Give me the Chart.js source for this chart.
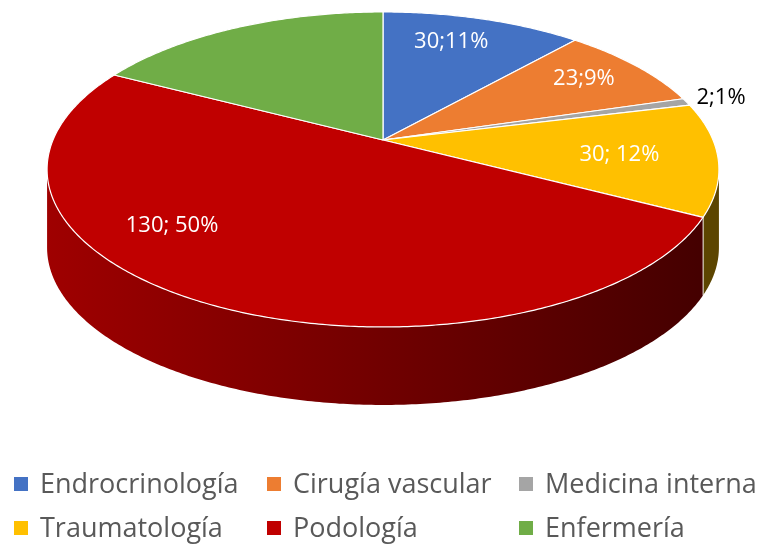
<!DOCTYPE html>
<html>
<head>
<meta charset="utf-8">
<script src="https://cdn.jsdelivr.net/npm/chart.js@4.4.1/dist/chart.umd.min.js"></script>
<style>
    html, body { margin: 0; padding: 0; background: #fff; }
    #wrap { position: relative; width: 765px; height: 547px; overflow: hidden; }
    #pie { position: absolute; left: 0; top: 0; }
    #legend {
        position: absolute; left: 14px; top: 467px;
        display: grid; grid-template-columns: 253px 252px auto;
        row-gap: 10px;
        font-family: "Open Sans", sans-serif; font-size: 27px; color: #595959;
    }
    .item { display: flex; align-items: center; height: 34px; line-height: 34px; white-space: nowrap; }
    .item span:last-child { position: relative; top: -1px; }
    .box { width: 14px; height: 14px; margin-right: 12px; flex: none; }
</style>
</head>
<body>
<div id="wrap">
    <canvas id="pie" width="765" height="547"></canvas>
    <div id="legend"></div>
</div>
<script>
// Chart data
const categories = ['Endrocrinología', 'Cirugía vascular', 'Medicina interna', 'Traumatología', 'Podología', 'Enfermería'];
const values = [30, 23, 2, 30, 130, 45];
const sliceLabels = ['30;11%', '23;9%', '2;1%', '30; 12%', '130; 50%', null];
const colors = ['#4472C4', '#ED7D31', '#A5A5A5', '#FFC000', '#C00000', '#70AD47'];

// Label placement (radius fraction, angle shift in degrees)
const labelRadius = [0.77, 0.79, 1.12, 0.71, 0.77, 0.7];
const labelShift = [-3, -1, 0, 1, 21, 0];

// 3D pie geometry: perspective projection of a flat disc
// X = a*u / (1 + p*v), Y = b*v / (1 + p*v)
const pie3d = { cx: 383, cy: 140, a: 330, b: 152, p: -0.187, depth: 78 };

function project(u, v) {
    const w = 1 + pie3d.p * v;
    return [pie3d.cx + pie3d.a * u / w, pie3d.cy + pie3d.b * v / w];
}

function arcPoints(a1, a2, r) {
    const pts = [];
    const n = Math.max(2, Math.ceil((a2 - a1) / 0.01));
    for (let k = 0; k <= n; k++) {
        const t = a1 + (a2 - a1) * k / n;
        pts.push(project(r * Math.cos(t), r * Math.sin(t)));
    }
    return pts;
}

function shade(hex, f) {
    const n = parseInt(hex.slice(1), 16);
    const r = Math.round(((n >> 16) & 255) * f);
    const g = Math.round(((n >> 8) & 255) * f);
    const b = Math.round((n & 255) * f);
    return `rgb(${r},${g},${b})`;
}

const pie3dPlugin = {
    id: 'pie3d',
    beforeDatasetsDraw(chart) {
        const ctx = chart.ctx;
        const arcs = chart.getDatasetMeta(0).data;
        const g = pie3d;
        // silhouette angle of the side wall
        const tSide = Math.asin(-g.p);
        const left = project(Math.cos(Math.PI - tSide), Math.sin(Math.PI - tSide))[0];
        const right = project(Math.cos(tSide), Math.sin(tSide))[0];

        // side walls (front part only)
        arcs.forEach((arc, i) => {
            const a1 = Math.max(arc.startAngle, tSide);
            const a2 = Math.min(arc.endAngle, Math.PI - tSide);
            if (a2 <= a1) return;
            const pts = arcPoints(a1, a2, 1);
            const grad = ctx.createLinearGradient(left, 0, right - 20, 0);
            grad.addColorStop(0, shade(colors[i], 0.83));
            grad.addColorStop(1, shade(colors[i], 0.36));
            ctx.save();
            ctx.beginPath();
            pts.forEach(([x, y], k) => k ? ctx.lineTo(x, y) : ctx.moveTo(x, y));
            for (let k = pts.length - 1; k >= 0; k--) ctx.lineTo(pts[k][0], pts[k][1] + g.depth);
            ctx.closePath();
            ctx.fillStyle = grad;
            ctx.fill();
            // light vertical edges between slices
            ctx.strokeStyle = 'rgba(255,255,255,0.7)';
            ctx.lineWidth = 1;
            [[a1, pts[0]], [a2, pts[pts.length - 1]]].forEach(([a, [x, y]]) => {
                if (a <= tSide + 0.001 || a >= Math.PI - tSide - 0.001) return;
                ctx.beginPath();
                ctx.moveTo(x, y);
                ctx.lineTo(x, y + g.depth);
                ctx.stroke();
            });
            ctx.restore();
        });

        // top face
        arcs.forEach((arc, i) => {
            const pts = arcPoints(arc.startAngle, arc.endAngle, 1);
            const c = project(0, 0);
            ctx.save();
            ctx.beginPath();
            ctx.moveTo(c[0], c[1]);
            pts.forEach(([x, y]) => ctx.lineTo(x, y));
            ctx.closePath();
            ctx.fillStyle = arc.options.backgroundColor;
            ctx.fill();
            ctx.strokeStyle = arc.options.borderColor;
            ctx.lineWidth = arc.options.borderWidth;
            ctx.lineJoin = 'round';
            ctx.stroke();
            ctx.restore();
        });

        // data labels
        ctx.save();
        ctx.font = '22px "Open Sans", sans-serif';
        ctx.textAlign = 'center';
        ctx.textBaseline = 'middle';
        arcs.forEach((arc, i) => {
            if (!sliceLabels[i]) return;
            const t = (arc.startAngle + arc.endAngle) / 2 + labelShift[i] * Math.PI / 180;
            const r = labelRadius[i];
            const [x, y] = project(r * Math.cos(t), r * Math.sin(t));
            ctx.fillStyle = r > 1 ? '#000000' : '#ffffff';
            ctx.fillText(sliceLabels[i], x, y);
        });
        ctx.restore();
        return false;
    }
};

new Chart(document.getElementById('pie'), {
    type: 'pie',
    data: {
        labels: categories,
        datasets: [{
            data: values,
            backgroundColor: colors,
            borderColor: '#ffffff',
            borderWidth: 1.2
        }]
    },
    options: {
        responsive: false,
        animation: false,
        plugins: {
            legend: { display: false },
            tooltip: { enabled: false }
        }
    },
    plugins: [pie3dPlugin]
});

// Legend
const legend = document.getElementById('legend');
legend.innerHTML = categories.map((c, i) => `
    <div class="item"><span class="box" style="background:${colors[i]}"></span><span>${c}</span></div>
`).join('');
</script>
</body>
</html>
